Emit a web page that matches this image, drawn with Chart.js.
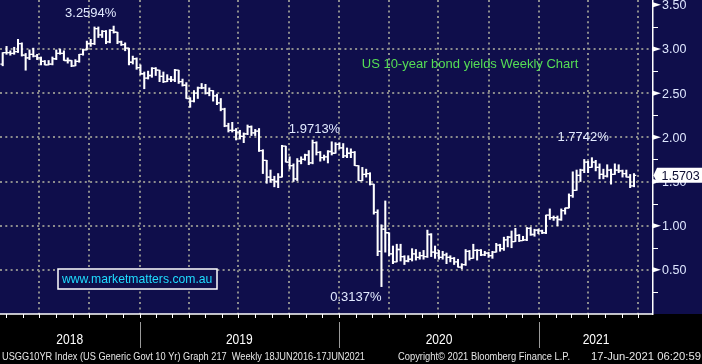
<!DOCTYPE html>
<html>
<head>
<meta charset="utf-8">
<script src="https://cdn.jsdelivr.net/npm/chart.js@4.4.1/dist/chart.umd.min.js"></script>
<style>
  html, body { margin: 0; padding: 0; background: #000; }
  canvas { display: block; }
</style>
</head>
<body>
<canvas id="chart" width="702" height="364"></canvas>
<script>
// Weekly USGG10YR bars, first visible bar = week of 20 Apr 2018, last = 17 Jun 2021
const opens = [
  2.83, 2.96, 2.96, 2.95, 2.97, 3.06, 2.93, 2.90, 2.94, 2.92,
  2.90, 2.86, 2.82, 2.83, 2.89, 2.95, 2.95, 2.87, 2.87, 2.81,
  2.86, 2.94, 2.99, 3.06, 3.06, 3.23, 3.16, 3.20, 3.08, 3.21,
  3.19, 3.08, 3.05, 3.01, 2.85, 2.89, 2.79,
  2.72, 2.67, 2.70, 2.78, 2.76, 2.69, 2.63, 2.66, 2.65, 2.76,
  2.63, 2.59, 2.44, 2.41, 2.50, 2.56, 2.56, 2.50, 2.53, 2.47,
  2.39, 2.32, 2.13, 2.08, 2.08, 2.06, 2.01, 2.04, 2.12, 2.05,
  2.07, 1.85, 1.74, 1.55, 1.52, 1.50, 1.55, 1.90, 1.72, 1.68,
  1.53, 1.73, 1.75, 1.80, 1.71, 1.94, 1.83, 1.77, 1.78, 1.84, 1.82, 1.92,
  1.88, 1.79, 1.82, 1.83, 1.68, 1.51, 1.58, 1.59, 1.47, 1.15,
  0.71, 0.96, 0.92, 0.68, 0.59, 0.73, 0.65, 0.60, 0.62, 0.68, 0.64, 0.66,
  0.65, 0.90, 0.70, 0.69, 0.64, 0.67, 0.64, 0.63, 0.59, 0.53,
  0.56, 0.71, 0.63, 0.72, 0.72, 0.67, 0.69, 0.66, 0.70, 0.78,
  0.74, 0.84, 0.87, 0.82, 0.89, 0.83, 0.84, 0.97, 0.90, 0.95, 0.94,
  0.92, 1.12, 1.09, 1.09, 1.07, 1.17, 1.20, 1.34, 1.40, 1.57,
  1.63, 1.72, 1.66, 1.72, 1.66, 1.58, 1.56, 1.63, 1.58, 1.63,
  1.62, 1.59, 1.55, 1.45
];
const highs = [
  2.96, 3.03, 2.98, 3.02, 3.11, 3.07, 2.95, 2.99, 3.01, 2.94,
  2.91, 2.87, 2.87, 2.91, 2.99, 3.00, 2.98, 2.90, 2.87, 2.88,
  2.94, 3.00, 3.09, 3.11, 3.25, 3.25, 3.21, 3.21, 3.22, 3.26,
  3.19, 3.09, 3.07, 3.01, 2.92, 2.90, 2.82,
  2.74, 2.75, 2.79, 2.79, 2.76, 2.74, 2.71, 2.69, 2.77, 2.76,
  2.66, 2.62, 2.45, 2.53, 2.57, 2.61, 2.60, 2.56, 2.53, 2.49,
  2.44, 2.33, 2.16, 2.17, 2.10, 2.08, 2.05, 2.14, 2.13, 2.09,
  2.10, 1.86, 1.74, 1.63, 1.56, 1.59, 1.91, 1.90, 1.78, 1.70,
  1.76, 1.78, 1.81, 1.85, 1.97, 1.95, 1.84, 1.80, 1.85, 1.95, 1.94, 1.94,
  1.93, 1.88, 1.87, 1.84, 1.68, 1.66, 1.64, 1.60, 1.47, 1.18,
  1.01, 1.28, 0.92, 0.77, 0.79, 0.79, 0.66, 0.66, 0.74, 0.73, 0.70, 0.72,
  0.95, 0.91, 0.77, 0.72, 0.71, 0.69, 0.66, 0.64, 0.62, 0.57,
  0.73, 0.72, 0.79, 0.73, 0.73, 0.71, 0.70, 0.71, 0.80, 0.79,
  0.87, 0.88, 0.94, 0.97, 0.90, 0.88, 0.98, 0.98, 0.96, 0.96, 0.95,
  1.12, 1.19, 1.11, 1.11, 1.19, 1.20, 1.36, 1.61, 1.63, 1.64,
  1.75, 1.73, 1.77, 1.74, 1.70, 1.64, 1.69, 1.64, 1.70, 1.69,
  1.63, 1.63, 1.58, 1.59
];
const lows = [
  2.81, 2.94, 2.93, 2.94, 2.96, 2.92, 2.76, 2.88, 2.91, 2.88,
  2.82, 2.82, 2.82, 2.82, 2.88, 2.94, 2.87, 2.84, 2.80, 2.81,
  2.85, 2.93, 2.99, 3.03, 3.05, 3.13, 3.13, 3.06, 3.07, 3.18,
  3.06, 3.04, 2.98, 2.82, 2.83, 2.77, 2.71,
  2.55, 2.66, 2.68, 2.70, 2.63, 2.62, 2.63, 2.63, 2.63, 2.61,
  2.58, 2.44, 2.34, 2.40, 2.44, 2.55, 2.49, 2.47, 2.41, 2.37,
  2.30, 2.12, 2.06, 2.06, 1.97, 1.98, 1.94, 2.03, 2.02, 2.02,
  1.84, 1.59, 1.48, 1.49, 1.44, 1.43, 1.55, 1.72, 1.64, 1.50,
  1.51, 1.70, 1.74, 1.69, 1.70, 1.80, 1.73, 1.74, 1.71, 1.80, 1.82, 1.87,
  1.77, 1.77, 1.77, 1.68, 1.51, 1.51, 1.55, 1.46, 1.13, 0.66,
  0.31, 0.70, 0.66, 0.57, 0.59, 0.60, 0.56, 0.59, 0.60, 0.61, 0.62, 0.62,
  0.64, 0.65, 0.63, 0.62, 0.62, 0.57, 0.59, 0.56, 0.53, 0.51,
  0.55, 0.61, 0.63, 0.61, 0.66, 0.66, 0.64, 0.63, 0.70, 0.71,
  0.72, 0.76, 0.75, 0.82, 0.82, 0.83, 0.83, 0.89, 0.88, 0.91, 0.91,
  0.91, 1.07, 1.06, 1.00, 1.06, 1.13, 1.20, 1.32, 1.40, 1.50,
  1.60, 1.60, 1.66, 1.62, 1.53, 1.53, 1.55, 1.47, 1.58, 1.60,
  1.55, 1.55, 1.43, 1.44
];
const closes = [
  2.96, 2.96, 2.95, 2.97, 3.06, 2.93, 2.90, 2.94, 2.92, 2.90,
  2.86, 2.82, 2.83, 2.89, 2.95, 2.95, 2.87, 2.87, 2.81, 2.86,
  2.94, 2.99, 3.06, 3.06, 3.23, 3.16, 3.20, 3.08, 3.21, 3.19,
  3.08, 3.05, 3.01, 2.85, 2.89, 2.79, 2.72,
  2.67, 2.70, 2.78, 2.76, 2.69, 2.63, 2.66, 2.65, 2.76, 2.63,
  2.59, 2.44, 2.41, 2.50, 2.56, 2.56, 2.50, 2.53, 2.47, 2.39,
  2.32, 2.13, 2.08, 2.08, 2.06, 2.01, 2.04, 2.12, 2.05, 2.07,
  1.85, 1.74, 1.55, 1.52, 1.50, 1.55, 1.90, 1.72, 1.68, 1.53,
  1.73, 1.75, 1.80, 1.71, 1.94, 1.83, 1.77, 1.78, 1.84, 1.82, 1.92, 1.88,
  1.79, 1.82, 1.83, 1.68, 1.51, 1.58, 1.59, 1.47, 1.15, 0.71,
  0.96, 0.92, 0.68, 0.59, 0.73, 0.65, 0.60, 0.62, 0.68, 0.64, 0.66, 0.65,
  0.90, 0.70, 0.69, 0.64, 0.67, 0.64, 0.63, 0.59, 0.53, 0.56,
  0.71, 0.63, 0.72, 0.72, 0.67, 0.69, 0.66, 0.70, 0.78, 0.74,
  0.84, 0.87, 0.82, 0.89, 0.83, 0.84, 0.97, 0.90, 0.95, 0.94, 0.92,
  1.12, 1.09, 1.09, 1.07, 1.17, 1.20, 1.34, 1.40, 1.57, 1.63,
  1.72, 1.66, 1.72, 1.66, 1.58, 1.56, 1.63, 1.58, 1.63, 1.62,
  1.59, 1.55, 1.45, 1.5703
];

const yearLabels = ['2018', '2019', '2020', '2021'];
const yAxisLabels = [0.5, 1.0, 1.5, 2.0, 2.5, 3.0, 3.5];
const yMinorTicks = [0.25, 0.75, 1.25, 1.75, 2.25, 2.75, 3.25];
const lastValue = 1.5703;

// extreme value call-outs: text, bar index, value
const callouts = [
  { text: '3.2594%', week: 23, value: 3.2594, dy: -13 },
  { text: '1.9713%', week: 81.5, value: 1.9713, dy: -10.5 },
  { text: '1.7742%', week: 151.7, value: 1.7742, dy: -20 },
  { text: '0.3137%', week: 92.3, value: 0.3137, dy: 11.5 }
];

const chartTitle = 'US 10-year bond yields Weekly Chart';
const siteText = 'www.marketmatters.com.au';
const footerLeft = 'USGG10YR Index (US Generic Govt 10 Yr) Graph 217  Weekly 18JUN2016-17JUN2021';
const footerMid = 'Copyright\u00A9 2021 Bloomberg Finance L.P.';
const footerRight = '17-Jun-2021 06:20:59';

const NAVY = '#0f0e4b';
const DAY = 86400000;
// date that sits at bar index 0 on the time axis
const weekZero = Date.UTC(2018, 3, 25, 16);
function weekIndex(y, m) {
  return (Date.UTC(y, m, 1) - weekZero) / (7 * DAY);
}

const X_MIN = -0.706, X_MAX = 169.97;

// quarter grid lines
const quarterTicks = [];
for (let y = 2018; y <= 2021; y++) {
  for (let m = 0; m < 12; m += 3) {
    const w = weekIndex(y, m);
    if (w > X_MIN && w < X_MAX) quarterTicks.push(w);
  }
}

function fitText(ctx, text, x, y, w, align) {
  const m = ctx.measureText(text).width;
  ctx.save();
  ctx.translate(x, y);
  ctx.scale(w / m, 1);
  ctx.textAlign = align;
  ctx.fillText(text, 0, 0);
  ctx.restore();
}

const bloombergLook = {
  id: 'bloombergLook',
  beforeDraw(chart) {
    const { ctx, chartArea } = chart;
    ctx.save();
    ctx.fillStyle = '#000';
    ctx.fillRect(0, 0, chart.width, chart.height);
    ctx.fillStyle = NAVY;
    ctx.fillRect(0, 0, chart.width, chartArea.bottom);
    ctx.restore();
  },
  afterDatasetsDraw(chart) {
    // open / close ticks on each bar
    const { ctx, chartArea: a } = chart;
    const y = chart.scales.y;
    const meta = chart.getDatasetMeta(0);
    ctx.save();
    ctx.beginPath();
    ctx.rect(a.left, a.top, a.right - a.left, a.bottom - a.top);
    ctx.clip();
    ctx.strokeStyle = '#fff';
    ctx.lineWidth = 1.3;
    meta.data.forEach((bar, i) => {
      const yo = y.getPixelForValue(opens[i]);
      const yc = y.getPixelForValue(closes[i]);
      ctx.beginPath();
      ctx.moveTo(bar.x - 2.3, yo);
      ctx.lineTo(bar.x, yo);
      ctx.moveTo(bar.x, yc);
      ctx.lineTo(bar.x + 2.3, yc);
      ctx.stroke();
    });
    ctx.restore();
  },
  afterDraw(chart) {
    const { ctx, chartArea: a } = chart;
    const x = chart.scales.x, y = chart.scales.y;
    ctx.save();

    // right axis markers + labels
    ctx.fillStyle = '#fff';
    yAxisLabels.forEach(v => {
      const py = y.getPixelForValue(v);
      ctx.beginPath();
      ctx.moveTo(a.right, py - 2.5);
      ctx.lineTo(a.right + 8, py);
      ctx.lineTo(a.right, py + 2.5);
      ctx.closePath();
      ctx.fill();
    });
    ctx.strokeStyle = '#fff';
    ctx.lineWidth = 1;
    yMinorTicks.forEach(v => {
      const py = Math.round(y.getPixelForValue(v)) + 0.5;
      ctx.beginPath();
      ctx.moveTo(a.right, py);
      ctx.lineTo(a.right + 5, py);
      ctx.stroke();
    });
    ctx.font = '12.5px "Liberation Sans", Arial, sans-serif';
    ctx.fillStyle = '#dfe7ff';
    ctx.textAlign = 'left';
    ctx.textBaseline = 'middle';
    yAxisLabels.forEach(v => {
      ctx.fillText(v.toFixed(2), a.right + 9, y.getPixelForValue(v) + 1);
    });

    // last value box
    const ly = y.getPixelForValue(lastValue);
    ctx.fillStyle = '#fff';
    ctx.beginPath();
    ctx.moveTo(a.right + 0.5, ly);
    ctx.lineTo(a.right + 4, ly - 7.5);
    ctx.lineTo(chart.width, ly - 7.5);
    ctx.lineTo(chart.width, ly + 7.5);
    ctx.lineTo(a.right + 4, ly + 7.5);
    ctx.closePath();
    ctx.fill();
    ctx.fillStyle = '#0b0b30';
    ctx.fillText(lastValue.toFixed(4), a.right + 8.5, ly + 1);

    // call-outs
    ctx.font = '13px "Liberation Sans", Arial, sans-serif';
    ctx.fillStyle = '#e2eaff';
    ctx.textAlign = 'center';
    callouts.forEach(c => {
      ctx.fillText(c.text, x.getPixelForValue(c.week), y.getPixelForValue(c.value) + c.dy);
    });

    // title
    ctx.fillStyle = '#55df55';
    ctx.fillText(chartTitle, 470, 64);

    // website box
    ctx.fillStyle = NAVY;
    ctx.fillRect(58, 269, 159, 20);
    ctx.strokeStyle = '#fff';
    ctx.lineWidth = 1.5;
    ctx.strokeRect(58, 269, 159, 20);
    ctx.font = '12.2px "Liberation Sans", Arial, sans-serif';
    ctx.fillStyle = '#1fdcff';
    ctx.textAlign = 'left';
    ctx.fillText(siteText, 62, 280);

    // bottom axis line + month ticks
    ctx.strokeStyle = '#fff';
    ctx.lineWidth = 1.5;
    ctx.beginPath();
    ctx.moveTo(a.left, a.bottom);
    ctx.lineTo(a.right, a.bottom);
    ctx.stroke();
    ctx.lineWidth = 1;
    for (let yr = 2018; yr <= 2021; yr++) {
      for (let m = 0; m < 12; m++) {
        const w = weekIndex(yr, m);
        if (w < X_MIN || w > X_MAX) continue;
        const px = Math.round(x.getPixelForValue(w)) + 0.5;
        ctx.beginPath();
        ctx.moveTo(px, a.bottom);
        ctx.lineTo(px, a.bottom + 4);
        ctx.stroke();
      }
    }

    // year labels and dividers
    ctx.font = '14px "Liberation Sans", Arial, sans-serif';
    ctx.fillStyle = '#fff';
    ctx.textAlign = 'center';
    yearLabels.forEach((lbl, i) => {
      const yr = Number(lbl);
      const s = Math.max(a.left, x.getPixelForValue(weekIndex(yr, 0)));
      const e = Math.min(a.right, x.getPixelForValue(weekIndex(yr + 1, 0)));
      ctx.save();
      ctx.translate((s + e) / 2, 340);
      ctx.scale(0.86, 1);
      ctx.fillText(lbl, 0, 0);
      ctx.restore();
      if (i > 0) {
        const px = Math.round(s) + 0.5;
        ctx.strokeStyle = '#9a9a9a';
        ctx.beginPath();
        ctx.moveTo(px, 322);
        ctx.lineTo(px, 348);
        ctx.stroke();
      }
    });

    // footer
    ctx.font = '11px "Liberation Sans", Arial, sans-serif';
    ctx.fillStyle = '#e6e6e6';
    fitText(ctx, footerLeft, 2, 357, 363, 'left');
    fitText(ctx, footerMid, 398, 357, 172, 'left');
    fitText(ctx, footerRight, 701, 357, 110, 'right');

    ctx.restore();
  }
};

new Chart(document.getElementById('chart'), {
  type: 'bar',
  data: {
    datasets: [{
      data: lows.map((l, i) => ({ x: i, y: [l, highs[i]] })),
      backgroundColor: '#ffffff',
      borderWidth: 0,
      barThickness: 1.4
    }]
  },
  options: {
    responsive: false,
    animation: false,
    layout: { padding: { left: 0, top: 0, right: 0, bottom: 50 } },
    plugins: { legend: { display: false }, tooltip: { enabled: false } },
    scales: {
      x: {
        type: 'linear',
        min: X_MIN,
        max: X_MAX,
        offset: false,
        afterBuildTicks: s => { s.ticks = quarterTicks.map(v => ({ value: v })); },
        afterFit: s => { s.height = 0; },
        ticks: { display: false },
        grid: { color: '#8c8c8c', lineWidth: 2, drawTicks: false, offset: false },
        border: { display: false, dash: [2, 3.3] }
      },
      y: {
        position: 'right',
        min: 0,
        max: 3.555,
        afterBuildTicks: s => { s.ticks = [0.5, 1.0, 1.5, 2.0, 2.5, 3.0].map(v => ({ value: v })); },
        afterFit: s => { s.width = 49; },
        ticks: { display: false },
        grid: { color: '#8c8c8c', lineWidth: 2, drawTicks: false },
        border: { display: true, color: '#ffffff', width: 1.5, dash: [2, 3.3] }
      }
    }
  },
  plugins: [bloombergLook]
});
</script>
</body>
</html>
